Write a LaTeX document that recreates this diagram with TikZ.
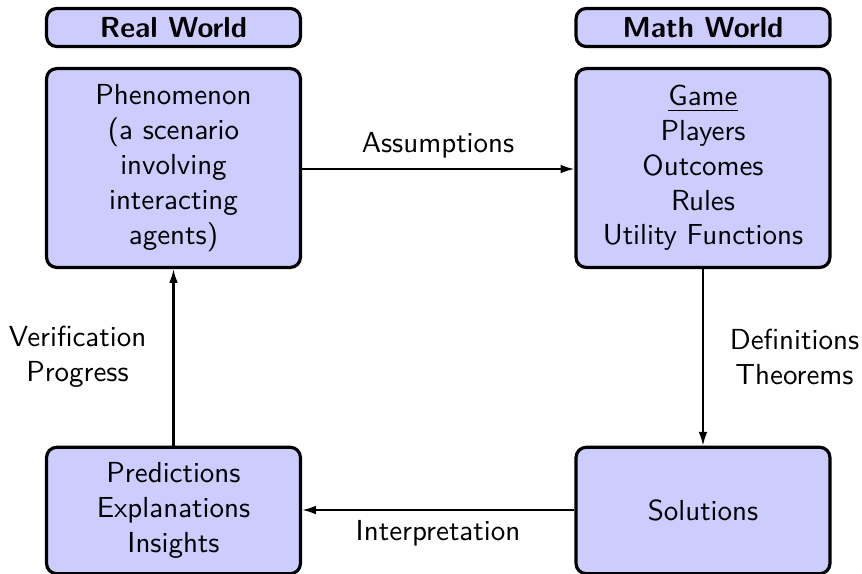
\documentclass[tikz,border=0pt]{standalone}
\usetikzlibrary{arrows.meta}
\begin{document}
\begin{tikzpicture}[x=0.345pt,y=-0.345pt,
  font=\sffamily,
  box/.style={draw=black, line width=1.1pt, fill=blue!20, rounded corners=3.5pt,
    align=center, minimum width=87.6pt, inner sep=0pt},
  header/.style={box, minimum height=13.1pt, font=\sffamily\bfseries},
  bigbox/.style={box, minimum height=68.6pt},
  lowbox/.style={box, minimum height=43.6pt},
  conn/.style={line width=0.7pt, -{Latex[length=4.8pt,width=3pt]}},
  lbl/.style={align=center, inner sep=0pt}
]
\useasboundingbox (0,0) rectangle (862,573);
\node[header] (rw) at (173.5,27.5) {Real World};
\node[header] (mw) at (703,27.5) {Math World};
\node[bigbox] (phen) at (173.5,168) {Phenomenon\\(a scenario\\involving\\interacting\\agents)};
\node[bigbox] (game) at (703,168) {\underline{Game}\\Players\\Outcomes\\Rules\\Utility Functions};
\node[lowbox] (pred) at (173.5,510.5) {Predictions\\Explanations\\Insights};
\node[lowbox] (sol) at (703,510.5) {Solutions};
\draw[conn] (phen.east |- 0,169) -- (game.west |- 0,169);
\draw[conn] (game) -- (sol);
\draw[conn] (sol.west |- 0,510) -- (pred.east |- 0,510);
\draw[conn] (pred) -- (phen);
\node[lbl, anchor=base] (la) at (438,152) {Assumptions};
\node[lbl, anchor=base] (li) at (438,540) {Interpretation};
\node[lbl] (ld) at (794.5,357) {Definitions\\Theorems};
\node[lbl] (lv) at (77.5,357) {Verification\\Progress};
\end{tikzpicture}
\end{document}
